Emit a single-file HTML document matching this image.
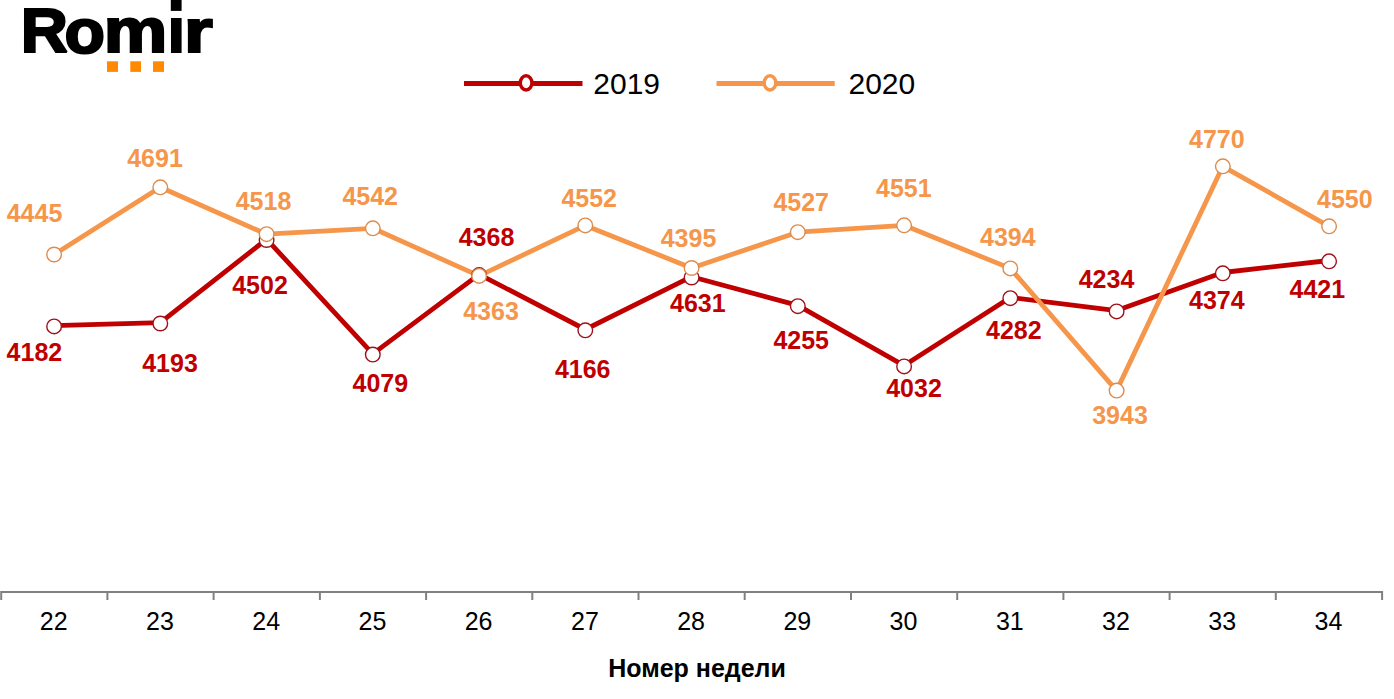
<!DOCTYPE html>
<html><head><meta charset="utf-8"><title>Romir</title>
<style>html,body{margin:0;padding:0;background:#fff;}svg{display:block;}</style></head>
<body><svg width="1394" height="699" viewBox="0 0 1394 699">
<polyline points="54.1,325.6 160.3,322.7 266.6,239.2 372.8,353.8 479.1,274.3 585.3,329.5 691.6,276.7 797.8,305.4 904.1,365.6 1010.3,297.4 1116.6,310.6 1222.8,272.5 1329.1,260.5" fill="none" stroke="#C00000" stroke-width="4.8" stroke-linejoin="round"/>
<polyline points="54.1,254.5 160.3,187.3 266.6,234.2 372.8,228.3 479.1,275.9 585.3,225.4 691.6,268.0 797.8,232.2 904.1,225.3 1010.3,268.4 1116.6,390.6 1222.8,166.3 1329.1,226.3" fill="none" stroke="#F5964A" stroke-width="4.8" stroke-linejoin="round"/>
<circle cx="54.1" cy="326.4" r="7.3" fill="#fff" stroke="#A01018" stroke-width="1.4"/><circle cx="160.3" cy="323.5" r="7.3" fill="#fff" stroke="#A01018" stroke-width="1.4"/><circle cx="266.6" cy="240.0" r="7.3" fill="#fff" stroke="#A01018" stroke-width="1.4"/><circle cx="372.8" cy="354.6" r="7.3" fill="#fff" stroke="#A01018" stroke-width="1.4"/><circle cx="479.1" cy="275.1" r="7.3" fill="#fff" stroke="#A01018" stroke-width="1.4"/><circle cx="585.3" cy="330.3" r="7.3" fill="#fff" stroke="#A01018" stroke-width="1.4"/><circle cx="691.6" cy="277.5" r="7.3" fill="#fff" stroke="#A01018" stroke-width="1.4"/><circle cx="797.8" cy="306.2" r="7.3" fill="#fff" stroke="#A01018" stroke-width="1.4"/><circle cx="904.1" cy="366.4" r="7.3" fill="#fff" stroke="#A01018" stroke-width="1.4"/><circle cx="1010.3" cy="298.2" r="7.3" fill="#fff" stroke="#A01018" stroke-width="1.4"/><circle cx="1116.6" cy="311.4" r="7.3" fill="#fff" stroke="#A01018" stroke-width="1.4"/><circle cx="1222.8" cy="273.3" r="7.3" fill="#fff" stroke="#A01018" stroke-width="1.4"/><circle cx="1329.1" cy="261.3" r="7.3" fill="#fff" stroke="#A01018" stroke-width="1.4"/>
<circle cx="54.1" cy="254.5" r="7.3" fill="#fff" stroke="#DC8C4E" stroke-width="1.4"/><circle cx="160.3" cy="187.3" r="7.3" fill="#fff" stroke="#DC8C4E" stroke-width="1.4"/><circle cx="266.6" cy="234.2" r="7.3" fill="#fff" stroke="#DC8C4E" stroke-width="1.4"/><circle cx="372.8" cy="228.3" r="7.3" fill="#fff" stroke="#DC8C4E" stroke-width="1.4"/><circle cx="479.1" cy="275.9" r="7.3" fill="#fff" stroke="#DC8C4E" stroke-width="1.4"/><circle cx="585.3" cy="225.4" r="7.3" fill="#fff" stroke="#DC8C4E" stroke-width="1.4"/><circle cx="691.6" cy="268.0" r="7.3" fill="#fff" stroke="#DC8C4E" stroke-width="1.4"/><circle cx="797.8" cy="232.2" r="7.3" fill="#fff" stroke="#DC8C4E" stroke-width="1.4"/><circle cx="904.1" cy="225.3" r="7.3" fill="#fff" stroke="#DC8C4E" stroke-width="1.4"/><circle cx="1010.3" cy="268.4" r="7.3" fill="#fff" stroke="#DC8C4E" stroke-width="1.4"/><circle cx="1116.6" cy="390.6" r="7.3" fill="#fff" stroke="#DC8C4E" stroke-width="1.4"/><circle cx="1222.8" cy="166.3" r="7.3" fill="#fff" stroke="#DC8C4E" stroke-width="1.4"/><circle cx="1329.1" cy="226.3" r="7.3" fill="#fff" stroke="#DC8C4E" stroke-width="1.4"/>
<g font-family="Liberation Sans, Arial, sans-serif" font-weight="bold" font-size="25" text-anchor="middle"><text x="34.4" y="361.1" fill="#C00000">4182</text><text x="170.0" y="371.8" fill="#C00000">4193</text><text x="260.0" y="293.8" fill="#C00000">4502</text><text x="380.3" y="391.8" fill="#C00000">4079</text><text x="486.5" y="246.4" fill="#C00000">4368</text><text x="582.7" y="377.6" fill="#C00000">4166</text><text x="697.8" y="312.3" fill="#C00000">4631</text><text x="801.2" y="348.6" fill="#C00000">4255</text><text x="914.0" y="397.1" fill="#C00000">4032</text><text x="1013.8" y="339.0" fill="#C00000">4282</text><text x="1106.5" y="288.1" fill="#C00000">4234</text><text x="1216.8" y="308.6" fill="#C00000">4374</text><text x="1317.3" y="298.1" fill="#C00000">4421</text><text x="34.5" y="221.8" fill="#F5964A">4445</text><text x="155.0" y="166.6" fill="#F5964A">4691</text><text x="263.5" y="209.8" fill="#F5964A">4518</text><text x="370.2" y="204.9" fill="#F5964A">4542</text><text x="491.0" y="319.8" fill="#F5964A">4363</text><text x="589.2" y="206.6" fill="#F5964A">4552</text><text x="688.5" y="246.8" fill="#F5964A">4395</text><text x="801.2" y="210.8" fill="#F5964A">4527</text><text x="903.8" y="196.8" fill="#F5964A">4551</text><text x="1007.8" y="246.1" fill="#F5964A">4394</text><text x="1120.0" y="423.8" fill="#F5964A">3943</text><text x="1216.8" y="148.4" fill="#F5964A">4770</text><text x="1344.8" y="207.8" fill="#F5964A">4550</text></g>
<line x1="1" y1="591.9" x2="1383" y2="591.9" stroke="#808080" stroke-width="2"/><line x1="1.2" y1="591" x2="1.2" y2="600" stroke="#808080" stroke-width="2"/><line x1="107.4" y1="591" x2="107.4" y2="600" stroke="#808080" stroke-width="2"/><line x1="213.6" y1="591" x2="213.6" y2="600" stroke="#808080" stroke-width="2"/><line x1="319.9" y1="591" x2="319.9" y2="600" stroke="#808080" stroke-width="2"/><line x1="426.1" y1="591" x2="426.1" y2="600" stroke="#808080" stroke-width="2"/><line x1="532.3" y1="591" x2="532.3" y2="600" stroke="#808080" stroke-width="2"/><line x1="638.5" y1="591" x2="638.5" y2="600" stroke="#808080" stroke-width="2"/><line x1="744.7" y1="591" x2="744.7" y2="600" stroke="#808080" stroke-width="2"/><line x1="851.0" y1="591" x2="851.0" y2="600" stroke="#808080" stroke-width="2"/><line x1="957.2" y1="591" x2="957.2" y2="600" stroke="#808080" stroke-width="2"/><line x1="1063.4" y1="591" x2="1063.4" y2="600" stroke="#808080" stroke-width="2"/><line x1="1169.6" y1="591" x2="1169.6" y2="600" stroke="#808080" stroke-width="2"/><line x1="1275.8" y1="591" x2="1275.8" y2="600" stroke="#808080" stroke-width="2"/><line x1="1382.1" y1="591" x2="1382.1" y2="600" stroke="#808080" stroke-width="2"/>
<g font-family="Liberation Sans, Arial, sans-serif" font-size="25" fill="#000" text-anchor="middle"><text x="53.7" y="630">22</text><text x="159.9" y="630">23</text><text x="266.2" y="630">24</text><text x="372.4" y="630">25</text><text x="478.6" y="630">26</text><text x="584.9" y="630">27</text><text x="691.1" y="630">28</text><text x="797.3" y="630">29</text><text x="903.5" y="630">30</text><text x="1009.8" y="630">31</text><text x="1116.0" y="630">32</text><text x="1222.2" y="630">33</text><text x="1328.5" y="630">34</text></g>
<text x="697" y="677" font-family="Liberation Sans, Arial, sans-serif" font-size="25" font-weight="bold" text-anchor="middle" fill="#000">Номер недели</text>
<line x1="464" y1="83.4" x2="582.5" y2="83.4" stroke="#C00000" stroke-width="5"/><ellipse cx="526.1" cy="82.9" rx="5.8" ry="7.1" fill="#fff" stroke="#C00000" stroke-width="3.4"/>
<line x1="716.5" y1="83.4" x2="834.7" y2="83.4" stroke="#F5964A" stroke-width="5"/><ellipse cx="770" cy="82.9" rx="5.8" ry="7.1" fill="#fff" stroke="#F5964A" stroke-width="3.4"/>
<g font-family="Liberation Sans, Arial, sans-serif" font-size="30" fill="#000"><text x="593.3" y="93.6">2019</text><text x="848.5" y="93.6">2020</text></g>
<defs><clipPath id="ic"><rect x="160" y="15" width="30" height="50"/></clipPath></defs><g font-family="Liberation Sans, Arial, sans-serif" font-weight="bold" font-size="200" fill="#000" stroke="#000" stroke-width="7" stroke-linejoin="miter" stroke-miterlimit="2"><text transform="translate(20.829,52.135) scale(0.3271,0.3162)">R</text><text transform="translate(64.574,52.622) scale(0.3316,0.3155)">o</text><text transform="translate(103.728,52.458) scale(0.3572,0.3140)">m</text><g clip-path="url(#ic)"><text transform="translate(167.714,52.465) scale(0.3086,0.3116)">i</text></g><text transform="translate(184.109,52.471) scale(0.3691,0.3096)">r</text></g><rect x="170.8" y="0" width="10.8" height="10.9" fill="#000"/>
<g fill="#FF8A00"><rect x="107" y="61.3" width="11" height="10.6"/><rect x="130.3" y="61.3" width="10.7" height="10.6"/><rect x="153" y="61.3" width="11" height="10.6"/></g>
</svg></body></html>
